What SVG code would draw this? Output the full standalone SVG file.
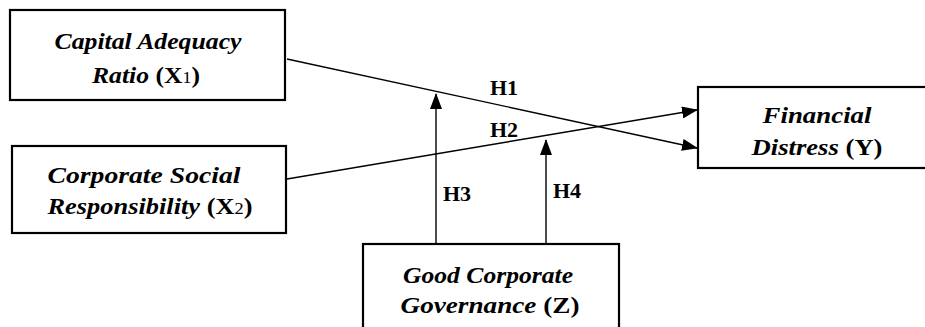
<svg xmlns="http://www.w3.org/2000/svg" width="925" height="327" viewBox="0 0 925 327">
<style>
.box{fill:#fff;stroke:#000;stroke-width:2.2}
text{font-family:'Liberation Serif','Times New Roman',Times,serif;font-weight:bold;fill:#000}
.t{font-size:23px;text-anchor:middle}
.i{font-style:italic}
.sub{font-size:16px;font-weight:normal}
.ln{stroke:#000;stroke-width:1.4;fill:none}
.h{font-size:22px}
</style>
<defs>
<marker id="ah" markerWidth="16" markerHeight="12" refX="15" refY="6" orient="auto" markerUnits="userSpaceOnUse">
<path d="M0,0 L16,6 L0,12 Z" fill="#000"/>
</marker>
</defs>
<g id="connectors">
<line class="ln" x1="287" y1="59" x2="697" y2="148" marker-end="url(#ah)"/>
<line class="ln" x1="287" y1="179" x2="697" y2="110" marker-end="url(#ah)"/>
<line class="ln" x1="436" y1="244" x2="436" y2="94" marker-end="url(#ah)"/>
<line class="ln" x1="546" y1="244" x2="546" y2="140" marker-end="url(#ah)"/>
<text class="h" x="490" y="95">H1</text>
<text class="h" x="490" y="137">H2</text>
<text class="h" x="443" y="201">H3</text>
<text class="h" x="553" y="198">H4</text>
</g>
<g id="node-x1">
<rect class="box" x="10" y="10" width="275" height="90"/>
<text class="t i" x="148" y="49" textLength="187" lengthAdjust="spacingAndGlyphs">Capital Adequacy</text>
<text class="t" x="146" y="83" textLength="108" lengthAdjust="spacingAndGlyphs"><tspan class="i">Ratio</tspan> (X<tspan class="sub">1</tspan>)</text>
</g>
<g id="node-x2">
<rect class="box" x="12" y="146" width="274" height="87"/>
<text class="t i" x="144" y="183" textLength="193" lengthAdjust="spacingAndGlyphs">Corporate Social</text>
<text class="t" x="150" y="214" textLength="205" lengthAdjust="spacingAndGlyphs"><tspan class="i">Responsibility</tspan> (X<tspan class="sub">2</tspan>)</text>
</g>
<g id="node-y">
<rect class="box" x="698" y="87" width="240" height="81"/>
<text class="t i" x="817" y="123" textLength="109" lengthAdjust="spacingAndGlyphs">Financial</text>
<text class="t" x="817" y="155" textLength="131" lengthAdjust="spacingAndGlyphs"><tspan class="i">Distress</tspan> (Y)</text>
</g>
<g id="node-z">
<rect class="box" x="363" y="244" width="256" height="90"/>
<text class="t i" x="488" y="283" textLength="170" lengthAdjust="spacingAndGlyphs">Good Corporate</text>
<text class="t" x="490" y="313" textLength="179" lengthAdjust="spacingAndGlyphs"><tspan class="i">Governance</tspan> (Z)</text>
</g>
</svg>
